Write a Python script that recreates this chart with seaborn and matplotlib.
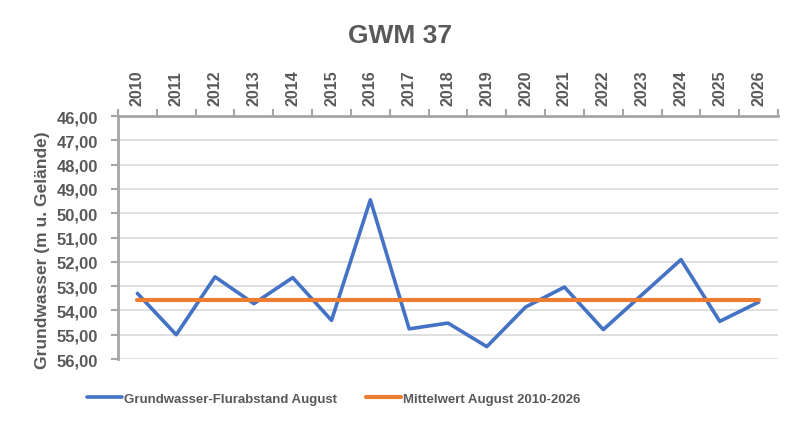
import numpy as np
import pandas as pd
import matplotlib.pyplot as plt
import seaborn as sns
from matplotlib.ticker import FuncFormatter, MultipleLocator

# Values (m below ground)
years = list(range(2010, 2027))
flurabstand = [53.30, 55.00, 52.62, 53.72, 52.65, 54.41, 49.45, 54.76, 54.52,
               55.49, 53.86, 53.04, 54.79, 53.35, 51.91, 54.45, 53.66]
mittelwert = [53.59] * len(years)

df = pd.DataFrame({'Jahr': years,
                   'Grundwasser-Flurabstand August': flurabstand,
                   'Mittelwert August 2010-2026': mittelwert})

sns.set_style('white')
plt.rcParams['font.family'] = ['Liberation Sans', 'DejaVu Sans']
textcol = '#595959'
axcol = '#A6A6A6'

fig = plt.figure(figsize=(8, 4.31), dpi=100)
ax = fig.add_axes([0.1475, 0.1647, 0.825, 0.5638])

ax.yaxis.grid(True, color='#D9D9D9', linewidth=1.2)
ax.set_axisbelow(True)

sns.lineplot(data=df, x='Jahr', y='Grundwasser-Flurabstand August', ax=ax,
             color='#4472C4', linewidth=2.6, label='Grundwasser-Flurabstand August')
sns.lineplot(data=df, x='Jahr', y='Mittelwert August 2010-2026', ax=ax,
             color='#ED7D31', linewidth=3.0, label='Mittelwert August 2010-2026')

ax.set_xlim(years[0] - 0.5, years[-1] + 0.5)
ax.set_ylim(56, 46)
ax.yaxis.set_major_locator(MultipleLocator(1))
ax.yaxis.set_major_formatter(FuncFormatter(lambda v, p: f'{v:.2f}'.replace('.', ',')))

ax.xaxis.tick_top()
ax.set_xticks(years)
ax.set_xticklabels([str(y) for y in years], rotation=90)
ax.set_xticks(np.arange(years[0] - 0.5, years[-1] + 1, 1), minor=True)
ax.tick_params(axis='x', which='major', length=0, pad=8, labelsize=11.5,
               labelcolor=textcol)
ax.tick_params(axis='x', which='minor', length=5, width=1.5, color=axcol, top=True)
ax.tick_params(axis='y', length=5, width=1.5, color=axcol, labelsize=12,
               labelcolor=textcol, left=True, pad=9.5)
for lab in ax.get_xticklabels() + ax.get_yticklabels():
    lab.set_fontweight('bold')

for side in ['right', 'bottom']:
    ax.spines[side].set_visible(False)
for side in ['left', 'top']:
    ax.spines[side].set_color(axcol)
    ax.spines[side].set_linewidth(2)

ax.set_xlabel('')
ax.set_ylabel('Grundwasser (m u. Gelände)', fontsize=12.5, fontweight='bold',
              color=textcol)
ax.yaxis.set_label_coords(-0.103, 0.45)

fig.suptitle('GWM 37', x=0.5, y=0.945, fontsize=19, fontweight='bold', color=textcol)

ax.get_legend().remove()
handles, labels = ax.get_legend_handles_labels()
leg = fig.legend(handles, labels, loc='center left', bbox_to_anchor=(0.109, 0.072), ncol=2,
                 frameon=False, handlelength=2.65, handletextpad=0.15, columnspacing=2.2,
                 borderpad=0, borderaxespad=0, prop={'weight': 'bold', 'size': 9.5})
for t in leg.get_texts():
    t.set_color(textcol)

fig.savefig('out.png', dpi=100)
